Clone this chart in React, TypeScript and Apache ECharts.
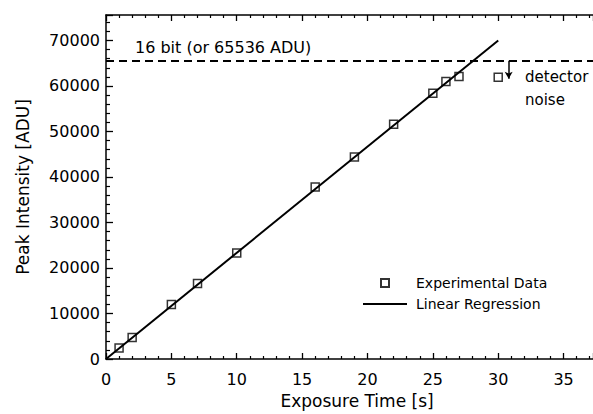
import React, { useEffect, useRef } from "react";
import * as echarts from "echarts";

const expTime = [1, 2, 5, 7, 10, 16, 19, 22, 25, 26, 27, 30];
const peakIntensity = [2400, 4750, 12000, 16600, 23300, 37800, 44400, 51600, 58400, 61000, 62100, 61900];
const fitTime = [0, 30];
const fitIntensity = [0, 70000];
const saturationLevel = 65536;
const noiseArrowX = 30.8;
const noiseArrowEnd = 61600;

const FONT = "DejaVu Sans";

export default function App() {
  const ref = useRef<HTMLDivElement>(null);
  useEffect(() => {
    if (!ref.current) return;
    const chart = echarts.init(ref.current, null, { renderer: "svg" });
    const axisLine = { show: true, lineStyle: { color: "#000", width: 1.5 } };
    const option: any = {
      animation: false,
      backgroundColor: "#fff",
      grid: { left: 106, right: 0, top: 15, bottom: 55 },
      xAxis: [
        {
          type: "value",
          min: 0,
          max: 37.25,
          interval: 5,
          position: "bottom",
          name: "Exposure Time [s]",
          nameLocation: "middle",
          nameGap: 33,
          nameTextStyle: { fontFamily: FONT, fontSize: 17, color: "#000", padding: [0, 0, 0, 15] },
          axisLine,
          axisTick: { show: true, inside: true, length: 6, lineStyle: { color: "#000", width: 1.3 } },
          minorTick: { show: true, splitNumber: 5, length: 3, lineStyle: { color: "#000", width: 1.2 } },
          axisLabel: {
            fontFamily: FONT, fontSize: 16, color: "#000", margin: 12, showMaxLabel: false,
            formatter: (v: number) => String(v),
          },
          splitLine: { show: false },
        },
        {
          type: "value",
          min: 0,
          max: 37.25,
          interval: 5,
          position: "top",
          axisLine,
          axisTick: { show: true, inside: true, length: 6, lineStyle: { color: "#000", width: 1.3 } },
          minorTick: { show: true, splitNumber: 5, length: 3, lineStyle: { color: "#000", width: 1.2 } },
          axisLabel: { show: false },
          splitLine: { show: false },
        },
      ],
      yAxis: {
        type: "value",
        min: 0,
        max: 75600,
        interval: 10000,
        name: "Peak Intensity [ADU]",
        nameLocation: "middle",
        nameGap: 75,
        nameTextStyle: { fontFamily: FONT, fontSize: 17, color: "#000" },
        axisLine,
        axisTick: { show: true, inside: true, length: 7, lineStyle: { color: "#000", width: 1.3 } },
        minorTick: { show: true, splitNumber: 5, length: 4, lineStyle: { color: "#000", width: 1.2 } },
        axisLabel: {
          fontFamily: FONT, fontSize: 16, color: "#000", margin: 6, showMaxLabel: false,
          formatter: (v: number) => String(v),
        },
        splitLine: { show: false },
      },
      legend: {
        orient: "vertical",
        left: 358,
        top: 271,
        itemWidth: 44,
        itemHeight: 8,
        itemGap: 7,
        textStyle: { fontFamily: FONT, fontSize: 14, color: "#000", padding: [0, 0, 0, 4] },
        data: [
          { name: "Experimental Data", icon: "path://M0,0h8v8h-8z" },
          { name: "Linear Regression", icon: "path://M0,0H44V2H0Z", itemStyle: { color: "#000", borderWidth: 0 } },
        ],
      },
      series: [
        {
          name: "Linear Regression",
          type: "line",
          data: fitTime.map((t, i) => [t, fitIntensity[i]]),
          symbol: "none",
          showSymbol: false,
          lineStyle: { color: "#000", width: 2 },
          itemStyle: { color: "#000" },
          z: 2,
          markLine: {
            silent: true,
            symbol: "none",
            label: { show: false },
            lineStyle: { color: "#000", width: 2, type: [8, 5] },
            data: [{ yAxis: saturationLevel }],
          },
        },
        {
          name: "Experimental Data",
          type: "scatter",
          data: expTime.map((t, i) => [t, peakIntensity[i]]),
          symbol: "rect",
          symbolSize: 8,
          itemStyle: { color: "rgba(255,255,255,0)", borderColor: "#000", borderWidth: 1.5 },
          z: 3,
          markLine: {
            silent: true,
            symbol: ["none", "arrow"],
            symbolSize: [6, 7],
            label: { show: false },
            lineStyle: { color: "#000", width: 1.5, type: "solid" },
            data: [[
              { coord: [noiseArrowX, saturationLevel] },
              { coord: [noiseArrowX, noiseArrowEnd] },
            ]],
          },
        },
      ],
      graphic: [
        {
          type: "text",
          left: 135,
          top: 39,
          style: { text: "16 bit (or 65536 ADU)", font: `16px "${FONT}"`, fill: "#000" },
        },
        {
          type: "text",
          left: 525,
          top: 69,
          style: { text: "detector", font: `15px "${FONT}"`, fill: "#000" },
        },
        {
          type: "text",
          left: 525,
          top: 92,
          style: { text: "noise", font: `15px "${FONT}"`, fill: "#000" },
        },
      ],
    };
    chart.setOption(option);
    return () => chart.dispose();
  }, []);
  return (
    <div
      ref={ref}
      style={{ position: "fixed", left: 0, top: 0, width: 593, height: 414, background: "#fff" }}
    />
  );
}
